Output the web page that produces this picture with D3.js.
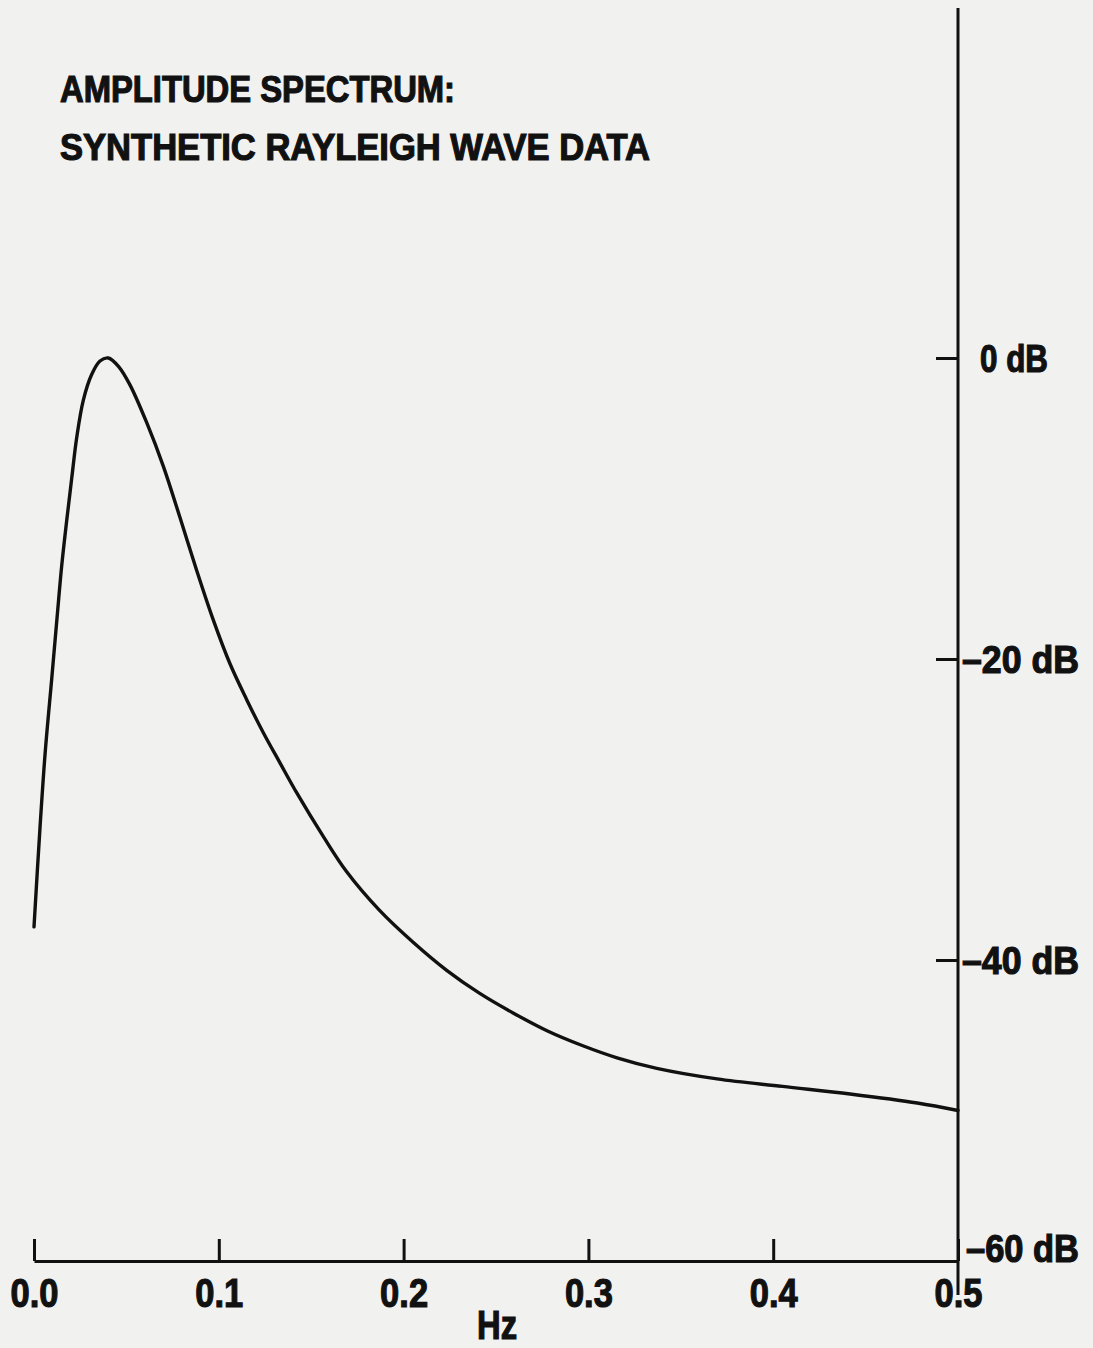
<!DOCTYPE html>
<html>
<head>
<meta charset="utf-8">
<script src="https://cdn.jsdelivr.net/npm/d3@7"></script>
<style>
  html, body { margin: 0; padding: 0; background: #f1f1f0; }
  svg { display: block; }
  text { font-family: "Liberation Sans", Arial, sans-serif; font-weight: bold; fill: #111; stroke: #111; stroke-width: 1.2px; }
</style>
</head>
<body>
<script>
// ---- data ----
const titleLines = ["AMPLITUDE SPECTRUM:", "SYNTHETIC RAYLEIGH WAVE DATA"];
const xLabel = "Hz";
const freqTicks = [0.0, 0.1, 0.2, 0.3, 0.4, 0.5];
const dbTicks = [0, -20, -40, -60];
const dbTickLabels = ["0 dB", "\u201320 dB", "\u201340 dB", "\u201360 dB"];
const freqHz = [0.000, 0.0032, 0.006, 0.0096, 0.0123, 0.015, 0.0177, 0.0204, 0.0231, 0.0267,
                0.0312, 0.0357, 0.0402, 0.046, 0.052, 0.061, 0.070, 0.079, 0.088, 0.097,
                0.106, 0.1151, 0.1241, 0.1331, 0.1422, 0.1566, 0.169, 0.187, 0.205, 0.2235,
                0.241, 0.259, 0.2776, 0.297, 0.3155, 0.337, 0.3696, 0.405, 0.4416, 0.478, 0.500];
const amplitudeDb = [-37.8, -31.3, -26.3, -21.3, -17.5, -13.8, -10.8, -8.0, -5.3, -2.8,
                     -1.1, -0.2, 0.0, -0.6, -1.8, -4.3, -7.2, -10.6, -14.1, -17.4,
                     -20.3, -22.7, -24.9, -26.9, -28.9, -31.8, -34.1, -36.7, -38.8, -40.7,
                     -42.2, -43.5, -44.7, -45.7, -46.5, -47.2, -47.9, -48.4, -48.9, -49.5, -50.0];

const W = 1093, H = 1348;
const svg = d3.select("body").append("svg").attr("width", W).attr("height", H);
svg.append("rect").attr("width", W).attr("height", H).attr("fill", "#f1f1f0");

const x = d3.scaleLinear().domain([0, 0.5]).range([34, 958]);
const y = d3.scaleLinear().domain([0, -60]).range([358, 1261]);

// title
const titleWidths = [395, 590];
titleLines.forEach((t, i) => {
  svg.append("text")
    .attr("x", 60).attr("y", 102 + i * 58)
    .attr("font-size", 37.5)
    .attr("textLength", titleWidths[i]).attr("lengthAdjust", "spacingAndGlyphs")
    .text(t);
});

// bottom axis
const xAxis = d3.axisBottom(x).tickValues(freqTicks).tickSize(-22).tickSizeOuter(0)
  .tickPadding(17).tickFormat(d3.format(".1f"));
const gx = svg.append("g").attr("transform", `translate(0,${y(-60)})`).call(xAxis);
gx.select(".domain").attr("stroke", "#111").attr("stroke-width", 3);
gx.selectAll(".tick line").attr("stroke", "#111").attr("stroke-width", 3);
gx.selectAll(".tick text")
  .attr("font-size", 41).attr("fill", "#111").attr("stroke", "#111").attr("stroke-width", 1.2)
  .attr("font-family", "\"Liberation Sans\", Arial, sans-serif").attr("font-weight", "bold")
  .attr("textLength", 48).attr("lengthAdjust", "spacingAndGlyphs");

svg.append("text").attr("x", x(0.25) + 1).attr("y", 1339)
  .attr("text-anchor", "middle").attr("font-size", 40)
  .attr("textLength", 40).attr("lengthAdjust", "spacingAndGlyphs")
  .text(xLabel);

// right axis (vertical line at 0.5 Hz)
const yAxis = d3.axisLeft(y).tickValues(dbTicks).tickSize(22).tickSizeOuter(0).tickFormat("");
const gy = svg.append("g").attr("transform", `translate(${x(0.5)},0)`).call(yAxis);
gy.select(".domain").remove();
gy.selectAll(".tick line").attr("stroke", "#111").attr("stroke-width", 3);
svg.append("line")
  .attr("x1", x(0.5)).attr("x2", x(0.5))
  .attr("y1", y(0) - 350).attr("y2", y(-60) + 34)
  .attr("stroke", "#111").attr("stroke-width", 3);

dbTicks.forEach((d, i) => {
  const lab = dbTickLabels[i];
  const neg = lab.startsWith("\u2013");
  const last = d === -60;
  svg.append("text")
    .attr("x", neg ? x(0.5) + (last ? 8 : 4) : x(0.5) + 22)
    .attr("y", y(d) + (last ? 1 : 14))
    .attr("font-size", 38)
    .attr("textLength", neg ? (last ? 113 : 117) : 68).attr("lengthAdjust", "spacingAndGlyphs")
    .text(lab);
});

// spectrum curve
const pts = freqHz.map((f, i) => [f, amplitudeDb[i]]);
const line = d3.line().x(d => x(d[0])).y(d => y(d[1])).curve(d3.curveCatmullRom.alpha(0.5));
svg.append("path").datum(pts)
  .attr("d", line)
  .attr("fill", "none").attr("stroke", "#111").attr("stroke-width", 3.4)
  .attr("stroke-linejoin", "round").attr("stroke-linecap", "round");
</script>
</body>
</html>
